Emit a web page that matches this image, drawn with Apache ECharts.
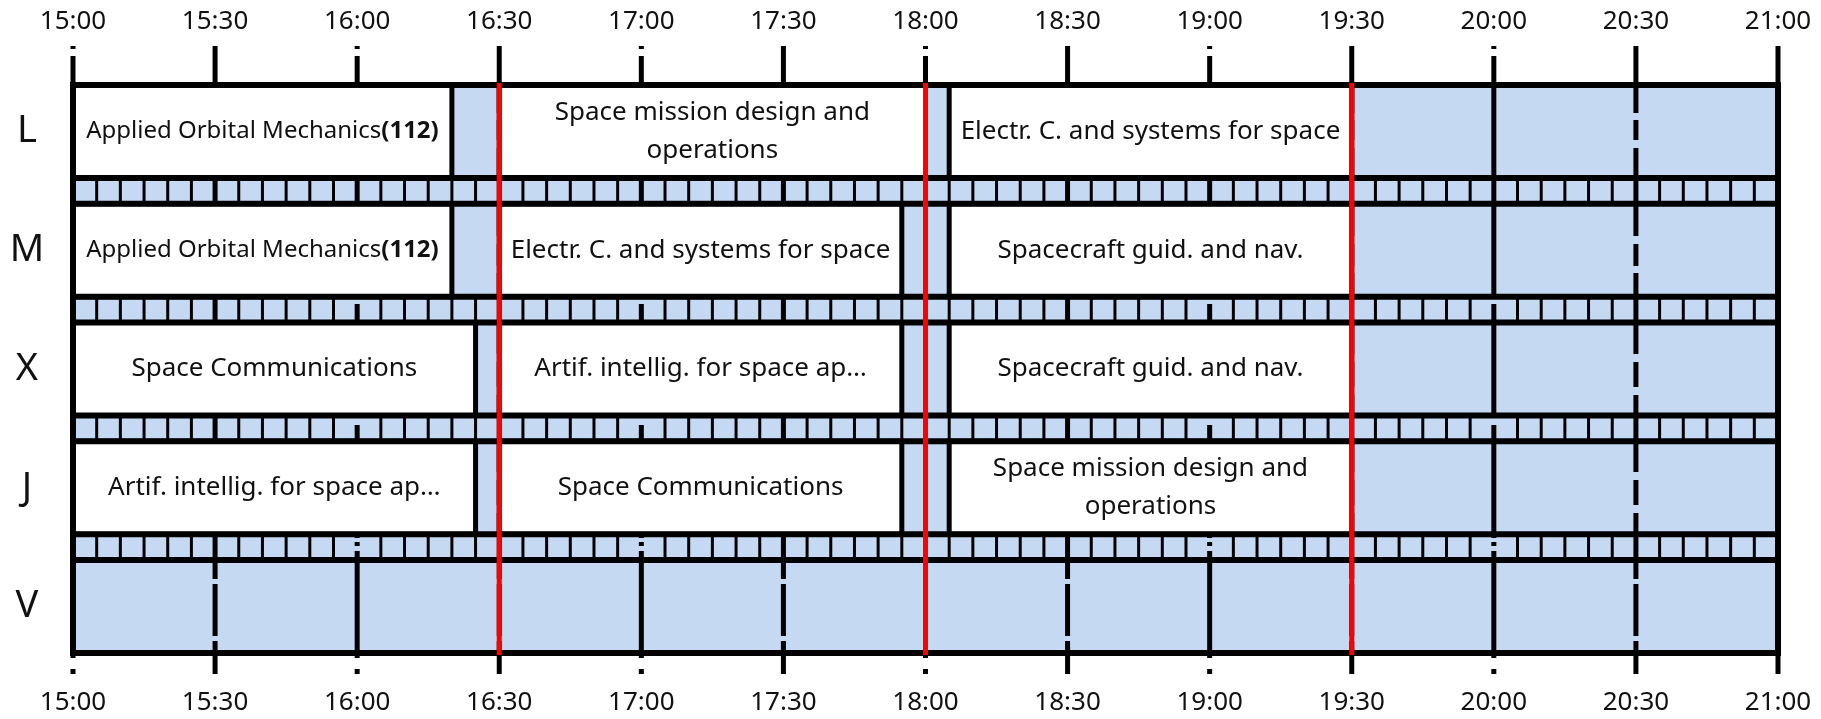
<!DOCTYPE html>
<html>
<head>
<meta charset="utf-8">
<script src="https://cdn.jsdelivr.net/npm/echarts@6/dist/echarts.min.js"></script>
<style>
html,body{margin:0;padding:0;background:#fff;}
#main{width:1821px;height:719px;}
</style>
</head>
<body>
<div id="main"></div>
<script>
// ---------------- data ----------------
const DAYS = ['L', 'M', 'X', 'J', 'V'];
const TIME_TICKS = ['15:00', '15:30', '16:00', '16:30', '17:00', '17:30', '18:00',
                    '18:30', '19:00', '19:30', '20:00', '20:30', '21:00'];
const EVENT_DAY = ['L', 'L', 'L', 'M', 'M', 'M', 'X', 'X', 'X', 'J', 'J', 'J'];
const EVENT_START = ['15:00', '16:30', '18:05', '15:00', '16:30', '18:05',
                     '15:00', '16:30', '18:05', '15:00', '16:30', '18:05'];
const EVENT_END = ['16:20', '18:00', '19:30', '16:20', '17:55', '19:30',
                   '16:25', '17:55', '19:30', '16:25', '17:55', '19:30'];
const EVENT_TITLE = [
  'Applied Orbital Mechanics', 'Space mission design and\noperations', 'Electr. C. and systems for space',
  'Applied Orbital Mechanics', 'Electr. C. and systems for space', 'Spacecraft guid. and nav.',
  'Space Communications', 'Artif. intellig. for space ap\u2026', 'Spacecraft guid. and nav.',
  'Artif. intellig. for space ap\u2026', 'Space Communications', 'Space mission design and\noperations'
];
const EVENT_CODE = ['112', '', '', '112', '', '', '', '', '', '', '', ''];
const SESSION_MARKS = ['16:30', '18:00', '19:30'];

// ---------------- helpers ----------------
const toMin = s => { const p = s.split(':').map(Number); return p[0] * 60 + p[1]; };
const fmtMin = v => { const h = Math.floor(v / 60), m = Math.round(v % 60); return h + ':' + (m < 10 ? '0' + m : m); };
const X_MIN = toMin(TIME_TICKS[0]);
const X_MAX = toMin(TIME_TICKS[TIME_TICKS.length - 1]);
const ROW_H = 1, STRIP_H = 0.275, PITCH = ROW_H + STRIP_H;
const Y_MAX = DAYS.length * ROW_H + (DAYS.length - 1) * STRIP_H;
const rowTop = i => i * PITCH;

const BLUE = '#c6d9f2';
const INK = '#000';
const TEXT = '#111';
const FONT = '"Noto Sans", "Open Sans", sans-serif';
// dash styles of the vertical guide lines (measured along the line, from the top tick)
const HOUR_DASH = [3, 7, 241, 7, 114, 7, 113, 4, 4, 5, 107, 11, 5];
const HALF_DASH = [67, 7, 20, 8, 88, 8, 22, 7, 81, 8, 25, 8, 77, 8, 25, 8, 66, 5, 52, 5, 33];

const mctx = document.createElement('canvas').getContext('2d');
function textWidth(str, size, weight) {
  mctx.font = (weight || 'normal') + ' ' + size + 'px ' + FONT;
  return mctx.measureText(str).width;
}

// ---------------- chart ----------------
const chart = echarts.init(document.getElementById('main'), null, {renderer: 'canvas'});

function renderRows(params, api) {
  const i = api.value(2);
  const cs = params.coordSys;
  const x0 = cs.x, x1 = cs.x + cs.width;
  const yt = api.coord([X_MIN, rowTop(i)])[1];
  const yb = api.coord([X_MIN, rowTop(i) + ROW_H])[1];
  const children = [{type: 'rect', shape: {x: x0, y: yt, width: x1 - x0, height: yb - yt}, style: {fill: BLUE}}];
  if (i < DAYS.length - 1) {
    const ye = api.coord([X_MIN, rowTop(i + 1)])[1];
    children.push({type: 'rect', shape: {x: x0, y: yb, width: x1 - x0, height: ye - yb}, style: {fill: BLUE}});
    for (let t = X_MIN + 5; t < X_MAX; t += 5) {
      if ((t - X_MIN) % 30 === 0) continue;
      const x = api.coord([t, 0])[0];
      children.push({type: 'line', shape: {x1: x, y1: yb, x2: x, y2: ye}, style: {stroke: INK, lineWidth: 3}});
    }
  }
  return {type: 'group', children};
}

function renderGrid(params, api) {
  const t = api.value(0);
  const cs = params.coordSys;
  const x = api.coord([t, 0])[0];
  const y1 = cs.y - 39, y2 = cs.y + cs.height + 21;
  let dash = null;
  if (t === X_MAX) dash = null;
  else if ((t - X_MIN) % 60 === 0) dash = HOUR_DASH;
  else dash = HALF_DASH;
  return {type: 'line', shape: {x1: x, y1: y1, x2: x, y2: y2},
          style: {stroke: INK, lineWidth: 5, lineDash: dash, lineDashOffset: 0}};
}

function renderEvent(params, api) {
  const s = api.value(0), e = api.value(1), d = api.value(2), k = api.value(3);
  const p0 = api.coord([s, rowTop(d)]);
  const p1 = api.coord([e, rowTop(d) + ROW_H]);
  const w = p1[0] - p0[0], h = p1[1] - p0[1];
  const title = EVENT_TITLE[k], code = EVENT_CODE[k];
  const lines = title.split('\n');
  const avail = w - 20;
  let size = 26;
  const measure = sz => Math.max.apply(null, lines.map((ln, j) =>
    textWidth(ln, sz) + (j === lines.length - 1 && code ? textWidth('(' + code + ')', sz, 'bold') : 0)));
  while (size > 12 && measure(size) > avail) size -= 1;
  const txt = code ? title + '{b|(' + code + ')}' : title;
  return {
    type: 'group',
    children: [
      {type: 'rect', shape: {x: p0[0], y: p0[1], width: w, height: h},
       style: {fill: '#fff', stroke: INK, lineWidth: 5}},
      {type: 'text', x: p0[0] + w / 2, y: p0[1] + h / 2,
       style: {text: txt, align: 'center', verticalAlign: 'middle', fill: TEXT,
               fontSize: size, fontFamily: FONT, lineHeight: 38,
               rich: {b: {fontWeight: 'bold', fontSize: size, fontFamily: FONT, fill: TEXT}}}}
    ]
  };
}

function renderFrame(params, api) {
  const i = api.value(2);
  const cs = params.coordSys;
  const x0 = cs.x, x1 = cs.x + cs.width;
  const yt = api.coord([X_MIN, rowTop(i)])[1];
  const yb = api.coord([X_MIN, rowTop(i) + ROW_H])[1];
  const st = {stroke: INK, lineWidth: 6};
  const children = [
    {type: 'line', shape: {x1: x0 - 3, y1: yt, x2: x1 + 3, y2: yt}, style: st},
    {type: 'line', shape: {x1: x0 - 3, y1: yb, x2: x1 + 3, y2: yb}, style: st}
  ];
  if (i === 0) {
    children.push({type: 'line', shape: {x1: x0, y1: cs.y, x2: x0, y2: cs.y + cs.height}, style: st});
    children.push({type: 'line', shape: {x1: x1, y1: cs.y, x2: x1, y2: cs.y + cs.height}, style: st});
  }
  return {type: 'group', children};
}

function renderMark(params, api) {
  const cs = params.coordSys;
  const x = api.coord([api.value(0), 0])[0];
  return {type: 'line', shape: {x1: x, y1: cs.y - 2, x2: x, y2: cs.y + cs.height + 2},
          style: {stroke: '#ff0000', lineWidth: 5}};
}

const xAxisBase = {
  type: 'value', min: X_MIN, max: X_MAX, interval: 30,
  axisLine: {show: false}, axisTick: {show: false}, splitLine: {show: false},
  axisLabel: {formatter: fmtMin, fontSize: 26, fontFamily: FONT, color: TEXT}
};

const rowData = DAYS.map((d, i) => [X_MIN, rowTop(i), i]);

chart.setOption({
  animation: false,
  backgroundColor: '#fff',
  grid: {left: 73, right: 43, top: 85, bottom: 66, containLabel: false},
  xAxis: [
    Object.assign({}, xAxisBase, {position: 'bottom', axisLabel: Object.assign({}, xAxisBase.axisLabel, {margin: 37})}),
    Object.assign({}, xAxisBase, {position: 'top', axisLabel: Object.assign({}, xAxisBase.axisLabel, {margin: 50})})
  ],
  yAxis: {
    type: 'value', inverse: true, min: 0, max: Y_MAX,
    axisLine: {show: false}, axisTick: {show: false}, splitLine: {show: false},
    axisLabel: {
      customValues: DAYS.map((d, i) => rowTop(i) + ROW_H / 2),
      formatter: v => DAYS[Math.round((v - ROW_H / 2) / PITCH)],
      fontSize: 38, fontFamily: FONT, color: TEXT, margin: 46, align: 'center'
    }
  },
  series: [
    {type: 'custom', name: 'rows', z: 1, renderItem: renderRows, data: rowData,
     encode: {x: 0, y: 1}, silent: true},
    {type: 'custom', name: 'grid', z: 2, renderItem: renderGrid,
     data: TIME_TICKS.map(s => [toMin(s), 0]), encode: {x: 0, y: 1}, silent: true},
    {type: 'custom', name: 'events', z: 3, renderItem: renderEvent,
     data: EVENT_TITLE.map((t, k) => [toMin(EVENT_START[k]), toMin(EVENT_END[k]), DAYS.indexOf(EVENT_DAY[k]), k]),
     encode: {x: [0, 1], y: 2}, silent: true},
    {type: 'custom', name: 'frame', z: 4, renderItem: renderFrame, data: rowData,
     encode: {x: 0, y: 1}, silent: true},
    {type: 'custom', name: 'marks', z: 5, renderItem: renderMark,
     data: SESSION_MARKS.map(s => [toMin(s), 0]), encode: {x: 0, y: 1}, silent: true}
  ]
});
</script>
</body>
</html>
